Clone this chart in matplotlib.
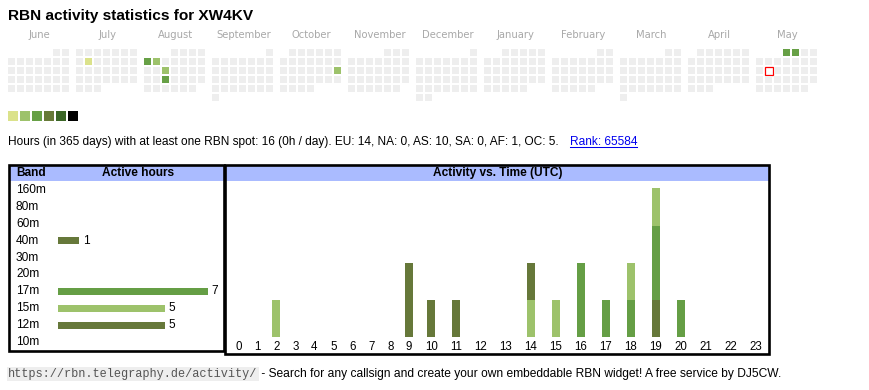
import datetime as dt
import matplotlib
matplotlib.use('Agg')
import matplotlib.pyplot as plt
from matplotlib.patches import Rectangle

callsign = 'XW4KV'
months = ['June', 'July', 'August', 'September', 'October', 'November',
          'December', 'January', 'February', 'March', 'April', 'May']
start_year, start_month = 2024, 6
active_days = ['2024-07-09', '2024-08-05', '2024-08-06', '2024-08-14',
               '2024-08-21', '2024-10-20', '2025-05-01', '2025-05-02']
active_levels = [1, 3, 2, 2, 3, 2, 3, 3]
today = '2025-05-13'
level_colors = ['#eeeeee', '#dbe28b', '#9dc26b', '#67a046', '#677a38', '#3b6626', '#000000']

bands = ['160m', '80m', '60m', '40m', '30m', '20m', '17m', '15m', '12m', '10m']
band_hours = [0, 0, 0, 1, 0, 0, 7, 5, 5, 0]
band_colors = {'40m': '#66783a', '17m': '#659e45', '15m': '#9dc26b', '12m': '#66783a'}

hours = list(range(24))
#              0  1  2  3  4  5  6  7  8  9 10 11 12 13 14 15 16 17 18 19 20 21 22 23
hours_40m = [0, 0, 0, 0, 0, 0, 0, 0, 0, 0, 0, 0, 0, 0, 0, 0, 0, 0, 0, 1, 0, 0, 0, 0]
hours_17m = [0, 0, 0, 0, 0, 0, 0, 0, 0, 0, 0, 0, 0, 0, 0, 0, 2, 1, 1, 2, 1, 0, 0, 0]
hours_15m = [0, 0, 1, 0, 0, 0, 0, 0, 0, 0, 0, 0, 0, 0, 1, 1, 0, 0, 1, 1, 0, 0, 0, 0]
hours_12m = [0, 0, 0, 0, 0, 0, 0, 0, 0, 2, 1, 1, 0, 0, 1, 0, 0, 0, 0, 0, 0, 0, 0, 0]

stats = 'Hours (in 365 days) with at least one RBN spot: 16 (0h / day). EU: 14, NA: 0, AS: 10, SA: 0, AF: 1, OC: 5.'
rank = 'Rank: 65584'
url = 'https://rbn.telegraphy.de/activity/'
footer = ' - Search for any callsign and create your own embeddable RBN widget! A free service by DJ5CW.'

W, H = 870, 390
plt.rcParams['font.family'] = ['Liberation Sans', 'DejaVu Sans']
fig = plt.figure(figsize=(W / 100, H / 100), dpi=100)

page = fig.add_axes([0, 0, 1, 1])
page.set_xlim(0, W)
page.set_ylim(H, 0)
page.axis('off')


def px_axes(x0, y0, x1, y1):
    a = fig.add_axes([x0 / W, 1 - y1 / H, (x1 - x0) / W, (y1 - y0) / H])
    a.patch.set_alpha(0)
    return a


page.text(8, 16, 'RBN activity statistics for ' + callsign, fontsize=11.1,
          fontweight='bold', va='center')

# ---- calendar ----
levels = dict(zip(active_days, active_levels))
for m, name in enumerate(months):
    y_, mo = start_year + (start_month - 1 + m) // 12, (start_month - 1 + m) % 12 + 1
    left = 8 + 68 * m
    page.text(left + 31.5, 35, name, fontsize=7.2, color='#a8a8a8',
              family='DejaVu Sans', ha='center', va='center')
    d = dt.date(y_, mo, 1)
    first_wd = d.weekday()
    while d.month == mo:
        idx = first_wd + d.day - 1
        x = left + 9 * (idx % 7)
        y = 49 + 9 * (idx // 7)
        key = d.isoformat()
        if key == today:
            page.add_patch(Rectangle((x + 0.3, y + 0.3), 7.5, 7.5, facecolor='white',
                                     edgecolor='red', lw=0.9))
        else:
            page.add_patch(Rectangle((x, y), 7, 7, facecolor=level_colors[levels.get(key, 0)],
                                     edgecolor='none'))
        d += dt.timedelta(days=1)

for i, c in enumerate(level_colors[1:]):
    page.add_patch(Rectangle((8 + 12 * i, 111), 10, 10, facecolor=c, edgecolor='none'))

# ---- stats line with link ----
r = fig.canvas.get_renderer()
t = page.text(8, 142, stats, fontsize=8.6, va='center')
bb = t.get_window_extent(r).transformed(page.transData.inverted())
lk = page.text(bb.x1 + 11, 142, rank, fontsize=8.6, va='center', color='#0000ee')
lb = lk.get_window_extent(r).transformed(page.transData.inverted())
page.plot([lb.x0, lb.x1], [147, 147], color='#0000ee', lw=0.75)

# ---- boxes and headers ----
for (x0, x1, y0, y1) in [(8.7, 224.3, 164.5, 350.5), (225.5, 769.5, 164.5, 353.5)]:
    page.add_patch(Rectangle((x0, 165.7), x1 - x0, 15, facecolor='#aabbff', edgecolor='none'))
    page.add_patch(Rectangle((x0, y0), x1 - x0, y1 - y0, facecolor='none',
                             edgecolor='black', lw=1.9))
page.text(16, 173, 'Band', fontsize=8.6, fontweight='bold', va='center')
page.text(138, 173, 'Active hours', fontsize=8.6, fontweight='bold', va='center', ha='center')
page.text(498, 173, 'Activity vs. Time (UTC)', fontsize=8.6, fontweight='bold',
          va='center', ha='center')

# ---- band table ----
px_per_hour = 21.4
ax1 = px_axes(10, 181.5, 223, 350.5)
ax1.set_xlim(-(58 - 10) / px_per_hour, (223 - 58) / px_per_hour)
ax1.set_ylim(len(bands) - 0.5, -0.5)
ax1.axis('off')
cols = [band_colors.get(b, '#999999') for b in bands]
ax1.barh(range(len(bands)), band_hours, height=0.42, color=cols)
for i, (b, v) in enumerate(zip(bands, band_hours)):
    ax1.text(6 / 213, i, b, transform=ax1.get_yaxis_transform(), fontsize=8.6, va='center')
    if v:
        ax1.text(v + 4 / px_per_hour, i, str(v), fontsize=8.6, va='center')

# ---- activity vs time ----
col_w = [13 + 6 * len(str(h)) for h in hours]
centers = []
acc = 0
for w in col_w:
    centers.append(acc + w / 2)
    acc += w
ax2 = px_axes(229, 181, 768, 337)
per_band = {'40m': hours_40m, '17m': hours_17m, '15m': hours_15m, '12m': hours_12m}
bottom = [0] * 24
for b in bands:
    if b not in per_band:
        continue
    vals = per_band[b]
    ax2.bar(centers, vals, width=8, bottom=bottom, color=band_colors[b])
    bottom = [p + q for p, q in zip(bottom, vals)]
ax2.set_xlim(0, acc)
ax2.set_ylim(0, max(bottom) * 1.05)
for s in ax2.spines.values():
    s.set_visible(False)
ax2.set_yticks([])
ax2.set_xticks(centers, [str(h) for h in hours], fontsize=8.3)
ax2.tick_params(axis='x', length=0, pad=3)

# ---- footer ----
u = page.text(8, 374, url, fontsize=8.6, family='Liberation Mono', color='#555555',
              va='center', bbox=dict(facecolor='#eeeeee', edgecolor='none', pad=1))
ub = u.get_window_extent(r).transformed(page.transData.inverted())
page.text(ub.x1 + 1, 374, footer, fontsize=8.68, va='center')

fig.savefig('out.png', dpi=100)
